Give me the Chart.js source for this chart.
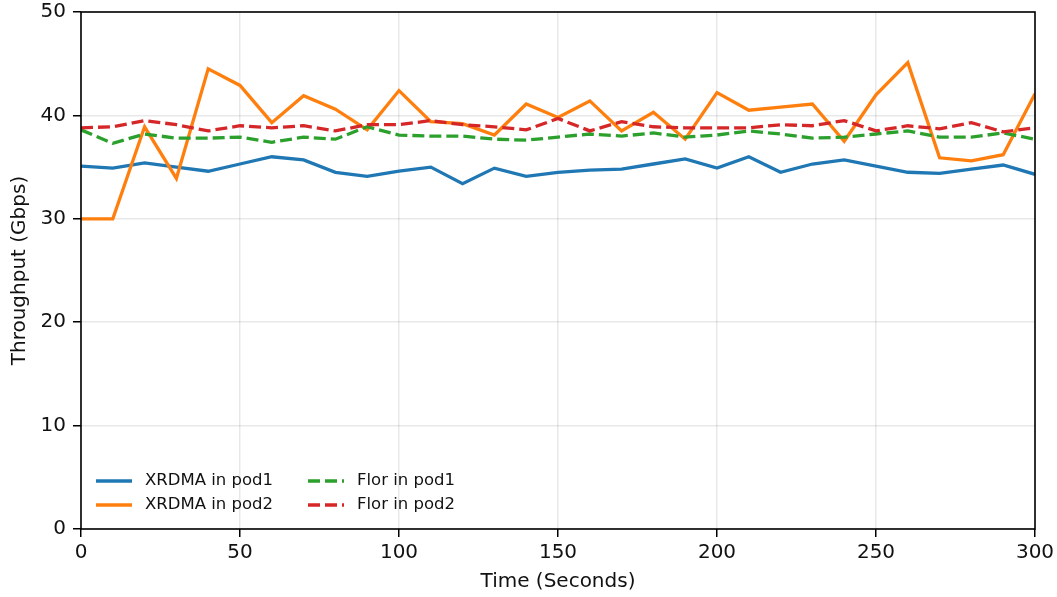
<!DOCTYPE html>
<html>
<head>
<meta charset="utf-8">
<script src="https://cdn.jsdelivr.net/npm/chart.js@4.4.0/dist/chart.umd.min.js"></script>
<style>
  html, body { margin: 0; padding: 0; background: #fff; }
  #wrap { width: 1057px; height: 597px; }
</style>
</head>
<body>
<div id="wrap"><canvas id="chart"></canvas></div>
<script>
// time axis, one sample every 10 s
const times = [0, 10, 20, 30, 40, 50, 60, 70, 80, 90, 100, 110, 120, 130, 140, 150,
  160, 170, 180, 190, 200, 210, 220, 230, 240, 250, 260, 270, 280, 290, 300];

const xrdmaPod1 = [35.1, 34.9, 35.4, 35.0, 34.6, 35.3, 36.0, 35.7, 34.5, 34.1, 34.6,
  35.0, 33.4, 34.9, 34.1, 34.5, 34.7, 34.8, 35.3, 35.8, 34.9,
  36.0, 34.5, 35.3, 35.7, 35.1, 34.5, 34.4, 34.8, 35.2, 34.3];
const xrdmaPod2 = [30.0, 30.0, 38.9, 33.9, 44.5, 42.9, 39.3, 41.9, 40.6, 38.6, 42.4,
  39.4, 39.2, 38.1, 41.1, 39.8, 41.4, 38.5, 40.3, 37.7, 42.2,
  40.5, 40.8, 41.1, 37.5, 42.0, 45.1, 35.9, 35.6, 36.2, 42.1];
const florPod1 = [38.6, 37.3, 38.2, 37.8, 37.8, 37.9, 37.4, 37.9, 37.7, 38.9, 38.1,
  38.0, 38.0, 37.7, 37.6, 37.9, 38.2, 38.0, 38.3, 37.9, 38.1,
  38.5, 38.2, 37.8, 37.9, 38.2, 38.5, 37.9, 37.9, 38.3, 37.7];
const florPod2 = [38.8, 38.9, 39.5, 39.1, 38.5, 39.0, 38.8, 39.0, 38.5, 39.1, 39.1,
  39.5, 39.1, 38.9, 38.6, 39.7, 38.5, 39.4, 38.9, 38.8, 38.8,
  38.8, 39.1, 39.0, 39.5, 38.5, 39.0, 38.7, 39.3, 38.4, 38.8];

const xTicks = [0, 50, 100, 150, 200, 250, 300];
const yTicks = [0, 10, 20, 30, 40, 50];

const FONT = "'DejaVu Sans', sans-serif";

function pts(values) {
  return values.map((v, i) => ({ x: times[i], y: v }));
}

function series(label, values, color, dashed, order) {
  return {
    label: label,
    data: pts(values),
    borderColor: color,
    backgroundColor: color,
    borderWidth: 3.3,
    borderDash: dashed ? [12, 5] : [],
    pointRadius: 0,
    tension: 0,
    order: order,
  };
}

// black box round the plot area, like matplotlib spines
const framePlugin = {
  id: "frame",
  afterDatasetsDraw(chart) {
    const { left, right, top, bottom } = chart.chartArea;
    const ctx = chart.ctx;
    ctx.save();
    ctx.strokeStyle = "#000";
    ctx.lineWidth = 1.6;
    ctx.strokeRect(left, top, right - left, bottom - top);
    ctx.restore();
  },
};

// legend inside the lower-left corner, two columns
const legendPlugin = {
  id: "insideLegend",
  afterDraw(chart) {
    const { left, bottom } = chart.chartArea;
    const ctx = chart.ctx;
    const cols = [
      [0, 1],
      [2, 3],
    ];
    const colX = [left + 15, left + 227];
    const rowY = [bottom - 48, bottom - 24];
    ctx.save();
    ctx.font = "16.5px " + FONT;
    ctx.textBaseline = "middle";
    ctx.fillStyle = "#111";
    cols.forEach((col, c) => {
      col.forEach((dsIndex, r) => {
        const ds = chart.data.datasets[dsIndex];
        const x0 = colX[c];
        const y = rowY[r];
        ctx.beginPath();
        ctx.strokeStyle = ds.borderColor;
        ctx.lineWidth = 3.3;
        ctx.setLineDash(ds.borderDash);
        ctx.moveTo(x0, y);
        ctx.lineTo(x0 + 36, y);
        ctx.stroke();
        ctx.setLineDash([]);
        ctx.fillText(ds.label, x0 + 49, y);
      });
    });
    ctx.restore();
  },
};

new Chart(document.getElementById("chart"), {
  type: "line",
  data: {
    datasets: [
      series("XRDMA in pod1", xrdmaPod1, "#1f77b4", false, 4),
      series("XRDMA in pod2", xrdmaPod2, "#ff7f0e", false, 3),
      series("Flor in pod1", florPod1, "#2ca02c", true, 2),
      series("Flor in pod2", florPod2, "#d62728", true, 1),
    ],
  },
  options: {
    responsive: true,
    maintainAspectRatio: false,
    animation: false,
    devicePixelRatio: 1,
    layout: { padding: { left: 0, right: 22, top: 12, bottom: 0 } },
    plugins: {
      legend: { display: false },
      tooltip: { enabled: false },
    },
    scales: {
      x: {
        type: "linear",
        min: 0,
        max: 300,
        afterBuildTicks: (s) => { s.ticks = xTicks.map((v) => ({ value: v })); },
        afterFit: (s) => { s.height = 68; s.paddingLeft = 0; s.paddingRight = 0; },
        ticks: {
          font: { family: FONT, size: 20 },
          color: "#111",
          padding: 4,
          maxRotation: 0,
        },
        grid: {
          color: "rgba(0,0,0,0.09)",
          lineWidth: 1.5,
          tickLength: 8,
          tickColor: "#000",
          tickWidth: 1.5,
        },
        border: { display: false },
        title: {
          display: true,
          text: "Time (Seconds)",
          font: { family: FONT, size: 20 },
          color: "#111",
          padding: { top: 0, bottom: 3 },
        },
      },
      y: {
        min: 0,
        max: 50,
        afterBuildTicks: (s) => { s.ticks = yTicks.map((v) => ({ value: v })); },
        afterFit: (s) => { s.width = 81; s.paddingTop = 0; s.paddingBottom = 0; },
        ticks: {
          font: { family: FONT, size: 20 },
          color: "#111",
          padding: 7,
        },
        grid: {
          color: "rgba(0,0,0,0.09)",
          lineWidth: 1.5,
          tickLength: 8,
          tickColor: "#000",
          tickWidth: 1.5,
        },
        border: { display: false },
        title: {
          display: true,
          text: "Throughput (Gbps)",
          font: { family: FONT, size: 20 },
          color: "#111",
          padding: { top: 8, bottom: 0 },
        },
      },
    },
  },
  plugins: [framePlugin, legendPlugin],
});
</script>
</body>
</html>
